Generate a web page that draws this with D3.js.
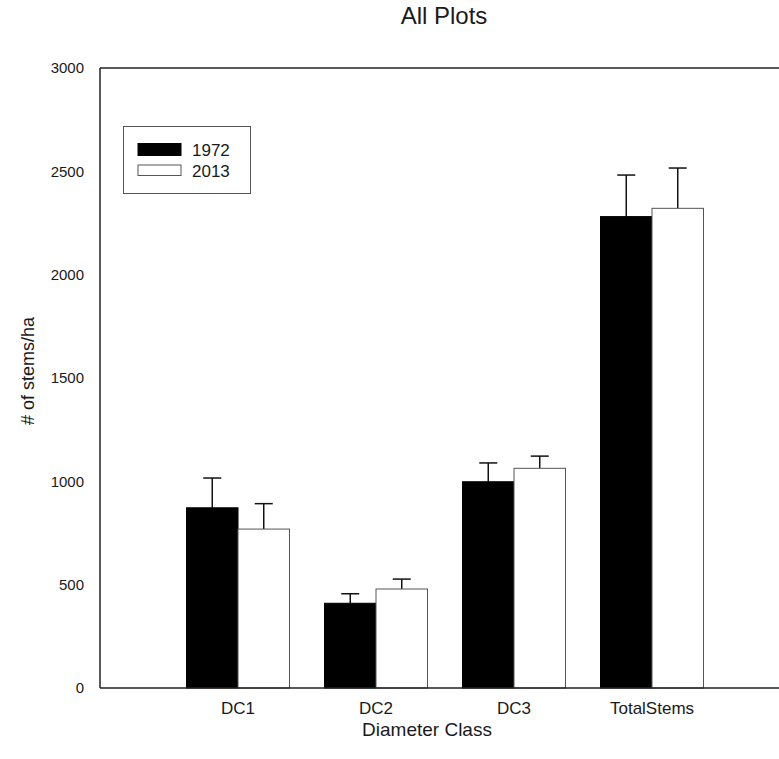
<!DOCTYPE html>
<html>
<head>
<meta charset="utf-8">
<script src="https://cdn.jsdelivr.net/npm/d3@7"></script>
<style>
  body { margin: 0; background: #fff; }
  text { font-family: "Liberation Sans", Arial, sans-serif; fill: #1a1a1a; }
</style>
</head>
<body>
<div class="chart"></div>
<script>
// values
const categories = ["DC1", "DC2", "DC3", "TotalStems"];
const years = ["1972", "2013"];
const means1972 = [872, 410, 998, 2281];
const means2013 = [769, 479, 1063, 2321];
const se1972 = [144, 46, 91, 201];
const se2013 = [123, 48, 59, 195];
const yTicks = [0, 500, 1000, 1500, 2000, 2500, 3000];

const data = [];
categories.forEach((c, i) => {
  data.push({cat: c, year: "1972", value: means1972[i], err: se1972[i]});
  data.push({cat: c, year: "2013", value: means2013[i], err: se2013[i]});
});

const outerWidth = 779, outerHeight = 759;
const plotLeft = 100, plotRight = 790, plotTop = 68, plotBottom = 688;

const svg = d3.select(".chart").append("svg")
  .attr("width", outerWidth)
  .attr("height", outerHeight);

const step = (plotRight - plotLeft) / 5;
const x = d3.scaleBand()
  .domain(categories)
  .range([plotLeft + step * 0.5, plotLeft + step * 4.5])
  .padding(0);

const xSub = d3.scaleBand()
  .domain(years)
  .range([0, x.bandwidth()])
  .paddingInner(0)
  .paddingOuter(0.34);

const y = d3.scaleLinear()
  .domain([0, 3000])
  .range([plotBottom, plotTop]);

const fills = {"1972": "#000", "2013": "#fff"};
const strokes = {"1972": "#000", "2013": "#555"};
const cx = d => x(d.cat) + xSub(d.year) + xSub.bandwidth() / 2;

// error bars (drawn first so the bar covers the stem bottom)
const eb = svg.append("g");
eb.selectAll(".stem")
  .data(data)
  .enter().append("line")
  .attr("x1", cx)
  .attr("x2", cx)
  .attr("y1", d => y(d.value))
  .attr("y2", d => y(d.value + d.err))
  .attr("stroke", "#111")
  .attr("stroke-width", 1.5);
eb.selectAll(".cap")
  .data(data)
  .enter().append("line")
  .attr("x1", d => cx(d) - 9)
  .attr("x2", d => cx(d) + 9)
  .attr("y1", d => y(d.value + d.err))
  .attr("y2", d => y(d.value + d.err))
  .attr("stroke", "#111")
  .attr("stroke-width", 1.5);

svg.append("g").selectAll("rect")
  .data(data)
  .enter().append("rect")
  .attr("x", d => x(d.cat) + xSub(d.year))
  .attr("y", d => y(d.value))
  .attr("width", xSub.bandwidth())
  .attr("height", d => y(0) - y(d.value))
  .attr("fill", d => fills[d.year])
  .attr("stroke", d => strokes[d.year])
  .attr("stroke-width", 1);

// frame
svg.append("line").attr("x1", plotLeft).attr("x2", plotRight).attr("y1", plotTop).attr("y2", plotTop)
  .attr("stroke", "#222").attr("stroke-width", 1.5);
svg.append("line").attr("x1", plotLeft).attr("x2", plotRight).attr("y1", plotBottom).attr("y2", plotBottom)
  .attr("stroke", "#222").attr("stroke-width", 1.5);
svg.append("line").attr("x1", plotLeft).attr("x2", plotLeft).attr("y1", plotTop).attr("y2", plotBottom)
  .attr("stroke", "#222").attr("stroke-width", 1.5);

const yAxis = d3.axisLeft(y).tickValues(yTicks).tickFormat(d3.format("d")).tickSize(0).tickPadding(16);
svg.append("g")
  .attr("class", "y-axis")
  .attr("transform", `translate(${plotLeft},0)`)
  .call(yAxis)
  .call(g => g.select(".domain").remove())
  .selectAll("text")
  .style("font-size", "15px")
  .style("font-family", "Liberation Sans, Arial, sans-serif");

const xAxis = d3.axisBottom(x).tickSize(0).tickPadding(14);
svg.append("g")
  .attr("class", "x-axis")
  .attr("transform", `translate(0,${plotBottom})`)
  .call(xAxis)
  .call(g => g.select(".domain").remove())
  .selectAll("text")
  .style("font-size", "17px")
  .style("font-family", "Liberation Sans, Arial, sans-serif");

// titles
svg.append("text")
  .attr("x", 444).attr("y", 24)
  .attr("text-anchor", "middle")
  .style("font-size", "24px")
  .text("All Plots");

svg.append("text")
  .attr("x", 427).attr("y", 736)
  .attr("text-anchor", "middle")
  .style("font-size", "19px")
  .text("Diameter Class");

svg.append("text")
  .attr("transform", "translate(34,371) rotate(-90)")
  .attr("text-anchor", "middle")
  .style("font-size", "18px")
  .text("# of stems/ha");

// legend
const legend = svg.append("g");
legend.append("rect")
  .attr("x", 123.5).attr("y", 126.5).attr("width", 127).attr("height", 67)
  .attr("fill", "#fff").attr("stroke", "#555").attr("stroke-width", 1);
const li = legend.selectAll(".item")
  .data(years)
  .enter().append("g")
  .attr("transform", (d, i) => `translate(138,${143.5 + i * 21.5})`);
li.append("rect")
  .attr("width", 43).attr("height", d => d === "1972" ? 12 : 10.5)
  .attr("fill", d => fills[d])
  .attr("stroke", d => strokes[d]).attr("stroke-width", 1);
li.append("text")
  .attr("x", 54).attr("y", 12)
  .style("font-size", "17px")
  .text(d => d);
</script>
</body>
</html>
